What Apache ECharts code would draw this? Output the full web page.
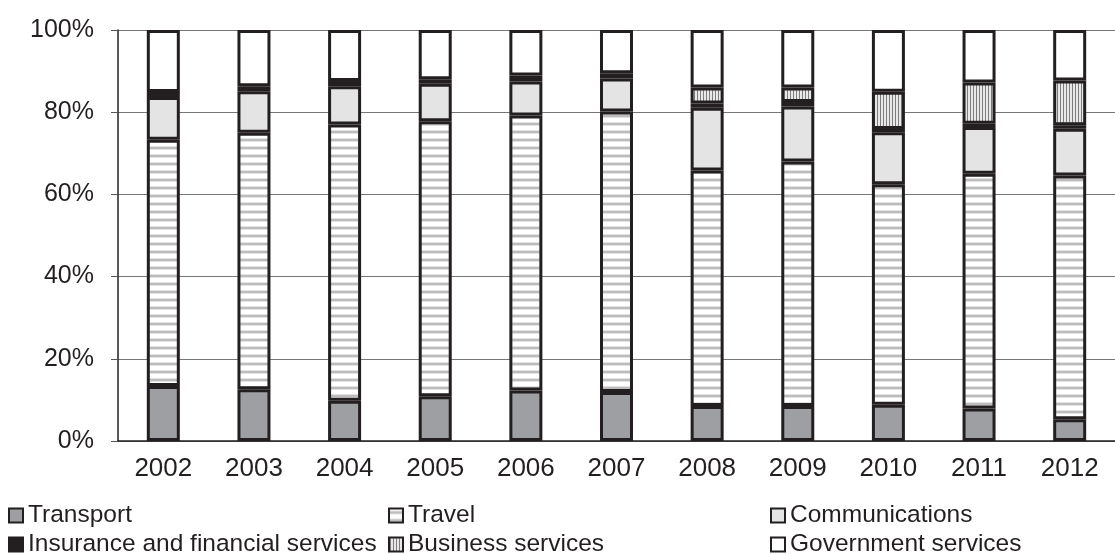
<!DOCTYPE html>
<html><head><meta charset="utf-8">
<script src="https://cdn.jsdelivr.net/npm/echarts@6/dist/echarts.min.js"></script>
<style>html,body{margin:0;padding:0;background:#fff}#c{width:1115px;height:554px}</style>
</head><body><div id="c"></div>
<script>
var years = ['2002','2003','2004','2005','2006','2007','2008','2009','2010','2011','2012'];
var transport      = [13.4, 12.6, 9.8, 10.9, 12.3, 11.9, 8.5, 8.5, 8.8, 7.9, 5.3];
var travel         = [59.9, 62.4, 67.2, 66.9, 66.9, 68.3, 57.3, 59.5, 53.7, 57.1, 59.3];
var communications = [10.4, 10.1, 9.3, 9.1, 8.3, 8.0, 15.3, 13.4, 12.6, 11.4, 11.4];
var insurance      = [1.2, 1.2, 1.3, 1.1, 1.4, 1.3, 1.0, 1.1, 0.8, 0.8, 0.8];
var business       = [0, 0, 0, 0, 0, 0, 3.9, 3.5, 9.1, 10.0, 10.9];
var government     = [15.1, 13.7, 12.4, 12.0, 11.1, 10.5, 14.0, 14.0, 15.0, 12.8, 12.3];
var yTicks = ['0%','20%','40%','60%','80%','100%'];

function hStripes(){
  var c=document.createElement('canvas');c.width=8;c.height=8;
  var g=c.getContext('2d');g.fillStyle='#ffffff';g.fillRect(0,0,8,8);
  g.fillStyle='#bdbdbd';g.fillRect(0,3,8,2);
  g.fillStyle='#e2e2e2';g.fillRect(0,2,8,1);g.fillRect(0,5,8,1);
  return c;
}
function vStripes(){
  var c=document.createElement('canvas');c.width=3;c.height=3;
  var g=c.getContext('2d');g.fillStyle='#e8e8e8';g.fillRect(0,0,3,3);
  g.fillStyle='#7d7d7d';g.fillRect(1,0,1,3);
  return c;
}
var border='#231f20';
function mk(name,data,color){
  return {name:name,type:'bar',stack:'s',
    data:data.map(function(v){return v===0?null:v;}),barWidth:33,
    itemStyle:{color:color,borderColor:border,borderWidth:3},
    emphasis:{disabled:true}};
}
var series=[
  mk('Transport',transport,'#9d9fa2'),
  mk('Travel',travel,{image:hStripes(),repeat:'repeat'}),
  mk('Communications',communications,'#e3e4e3'),
  mk('Insurance and financial services',insurance,'#231f20'),
  mk('Business services',business,{image:vStripes(),repeat:'repeat'}),
  mk('Government services',government,'#ffffff')
];
var font='Liberation Sans, Arial, sans-serif';
function lg(left,top,name){
  return {orient:'horizontal',left:left,top:top,padding:0,itemWidth:14,itemHeight:14,
    icon:'rect',data:[name],selectedMode:false,
    textStyle:{fontFamily:font,fontSize:24.5,color:'#231f20',padding:[0,0,0,0]},
    itemStyle:{borderColor:border,borderWidth:2}};
}
var chart=echarts.init(document.getElementById('c'),null,{renderer:'canvas'});
chart.setOption({
  animation:false,
  grid:{left:118,top:30,bottom:113,right:-12,containLabel:false},
  legend:[
    lg(8,503,'Transport'),
    lg(8,532,'Insurance and financial services'),
    lg(388,503,'Travel'),
    lg(388,532,'Business services'),
    lg(770,503,'Communications'),
    lg(770,532,'Government services')
  ],
  xAxis:{type:'category',data:years,
    axisLine:{lineStyle:{color:border,width:1.5}},
    axisTick:{length:7,lineStyle:{color:'#555'}},
    axisLabel:{margin:15,fontFamily:font,fontSize:26,color:'#231f20'}},
  yAxis:{type:'value',min:0,max:100,interval:20,
    axisLine:{show:true,lineStyle:{color:border,width:1.5}},
    axisTick:{show:true,length:7,lineStyle:{color:'#555'}},
    splitLine:{lineStyle:{color:'#777',width:1}},
    axisLabel:{margin:24,fontFamily:font,fontSize:25,color:'#231f20',
      formatter:function(v){return yTicks[Math.round(v/20)];}}},
  series:series
});
</script></body></html>
